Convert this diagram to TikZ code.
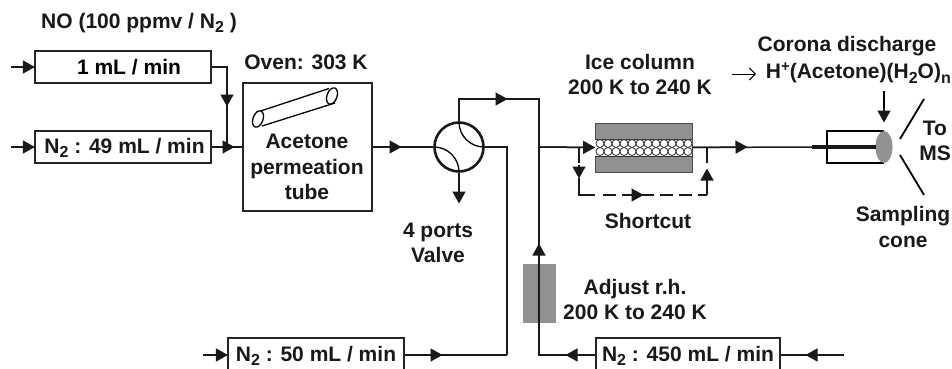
\documentclass[tikz,border=0pt]{standalone}
\usepackage{fontspec}
\setmainfont{Liberation Sans}
\usetikzlibrary{arrows.meta,calc,shapes.geometric}
\tikzset{
  lbl/.style={font=\fontsize{21}{25.5}\selectfont\bfseries, inner sep=0pt, align=center, text=black!90},
  flowbox/.style={draw=black!85, line width=1.2pt, fill=white, inner sep=0pt, minimum height=32pt, font=\fontsize{21}{25.5}\selectfont\bfseries},
  pipe/.style={line width=1.5pt, draw=black!90},
  tip/.style={pipe, -{Triangle[length=12pt,width=13pt]}},
  dash line/.style={pipe, dash pattern=on 13pt off 6pt},
  greyfill/.style={fill=black!43, draw=none},
}
\newcommand{\arrowto}[2]{\draw[tip,shorten >=-0.5pt] #1 -- #2;}
\newcommand{\subs}[1]{\raisebox{-4.5pt}{\fontsize{16}{16}\selectfont #1}}
\newcommand{\sups}[1]{\raisebox{7pt}{\fontsize{15}{15}\selectfont #1}}
\begin{document}
\begin{tikzpicture}[x=1pt,y=-1pt]
\useasboundingbox (0,0) rectangle (952,369);
\fill[white] (0,0) rectangle (952,369);
% boxes
\node[flowbox, minimum width=176pt] (mlone) at (123,67) {\hspace*{12pt}1 mL / min};
\node[flowbox, minimum width=176pt] (nfortynine) at (123,147) {};
\node[lbl] (nfortyninetxt) at (124.5,148) {N\subs{2} : 49 mL / min};
\node[draw=black!85, line width=1.5pt, minimum width=129pt, minimum height=128pt, inner sep=0pt] (oven) at (307.5,147) {};
\node[flowbox, minimum width=176pt, minimum height=36pt] (nfifty) at (316,356) {};
\node[flowbox, minimum width=184pt, minimum height=36pt] (nfourfifty) at (688,356) {};
\node[lbl] (nfiftytxt) at (316,356) {N\subs{2} : 50 mL / min};
\node[lbl] (nfourfiftytxt) at (688,356) {N\subs{2} : 450 mL / min};
% coordinates
\coordinate (j1) at (227,147);
\coordinate (j2) at (227,67);
\coordinate (vt) at (459,99);
\coordinate (vr) at (539,99);
\coordinate (cross) at (539,147);
\coordinate (down) at (507,355);
\coordinate (bend) at (539,355);
\coordinate (downt) at (507,147);
% inlets
\coordinate (in1) at (11,67); \coordinate (in2) at (11,147);
\coordinate (in3) at (203,355); \coordinate (in4) at (844,355);
\arrowto{(in1)}{(mlone.west)}
\arrowto{(in2)}{(nfortynine.west)}
\arrowto{(in3)}{(nfifty.west |- in3)}
\draw[pipe] (mlone.east) -- (j2) -- (j1);
\arrowto{(j2)}{(227,106)}
\draw[pipe] (nfortynine.east) -- (oven.west);
\arrowto{(nfortynine.east)}{(234,147)}
% tube in oven
\draw[line width=1.3pt] (256,112.5) -- (329,88.5);
\draw[line width=1.3pt] (262,126) -- (335,103);
\draw[line width=1.3pt,fill=white] (258,119) ellipse[x radius=5, y radius=8.5,rotate=-20];
\draw[line width=1.3pt] (332,96) ellipse[x radius=5, y radius=8.5,rotate=-20];
\node[lbl] (ovenlbl) at (306,62) {Oven: 303 K};
\node[lbl] (acetone) at (307,167) {Acetone\\permeation\\tube};
% valve
\node[circle, draw=black!90, line width=2.6pt, minimum size=49pt, inner sep=0pt] (valve) at (459,147) {};
\draw[pipe] (oven.east) -- (valve.west);
\arrowto{(oven.east)}{(401,147)}
\draw[line width=1.3pt] (459,122) arc[start angle=180,end angle=90,radius=25];
\draw[line width=1.3pt] (434,147) arc[start angle=270,end angle=360,radius=25];
\draw[pipe] (valve.north) -- (vt) -- (vr) -- (bend);
\arrowto{(vt)}{(507,99)}
\arrowto{(valve.south)}{(459,203)}
\draw[pipe] (valve.east) -- (downt) -- (down);
\draw[pipe] (nfifty.east |- down) -- (down);
\arrowto{(nfifty.east |- down)}{(442,355)}
\node[lbl] (fourports) at (438,243) {4 ports\\Valve};
% rh trap
\node[greyfill, minimum width=33pt, minimum height=59pt, inner sep=0pt] (trap) at (539.5,293.5) {};
\draw[pipe] (nfourfifty.west |- bend) -- (bend) -- (539,250);
\arrowto{(539,250)}{(539,244)}
\draw[pipe] (539,250) -- (cross);
\arrowto{(nfourfifty.west |- bend)}{(566,355)}
\draw[pipe] (in4) -- (nfourfifty.east |- in4);
\arrowto{(in4)}{(806,355)}
\node[lbl] (adjust) at (635,299.5) {Adjust r.h.\\200 K to 240 K};
% ice column
\node[fill=black!43, draw=black!70, line width=0.8pt, minimum width=97pt, minimum height=49pt, inner sep=0pt] (ice) at (643.5,147.5) {};
\fill[white] (595,139) rectangle (692,156);
\draw[line width=1pt,black!80] (595,139) -- (692,139) (595,156) -- (692,156);
\foreach \cx in {0,...,11}{
  \draw[black!75,line width=0.9pt,fill=white] ({600+8*\cx},143.5) circle[radius=4];
  \draw[black!75,line width=0.9pt,fill=white] ({600+8*\cx},151.5) circle[radius=4];
}
\draw[pipe] (cross) -- (ice.west);
\arrowto{(cross)}{(ice.west)}
\draw[pipe] (ice.east) -- (812,147);
\arrowto{(ice.east)}{(747,147)}
\coordinate (sa) at (579,147); \coordinate (sb) at (579,195);
\coordinate (sc) at (707,195); \coordinate (sd) at (707,147);
\draw[pipe] (sa) -- (579,163);
\draw[pipe] (579,178) -- (sb) -- (595,195);
\arrowto{(579,165)}{(579,178)}
\draw[dash line] (603,195) -- (sc);
\arrowto{(630,195)}{(643,195)}
\draw[pipe] (sc) -- (707,182);
\arrowto{(707,182)}{(707,169)}
\draw[pipe] (707,163) -- (sd);
\node[lbl] (shortcut) at (648,221) {Shortcut};
\node[lbl] (icelbl) at (640,74.5) {Ice column\\200 K to 240 K};
% source
\draw[line width=1.4pt] (884,131) -- (827,131) -- (827,163) -- (884,163);
\node[ellipse, fill=black!43, minimum width=17pt, minimum height=32pt, inner sep=0pt] (tipel) at (884,147) {};
\draw[line width=3.5pt, black!90] (812,147) -- (876,147);
\draw[line width=1.4pt] (884,91) -- (884,110);
\arrowto{(884,108)}{(884,122)}
\draw[line width=1.8pt] (900,139) -- (924,99);
\draw[line width=1.8pt] (900,155) -- (924,195);
\node[lbl] (corona) at (847,46) {Corona discharge};
\node[lbl, anchor=east] (ion) at (951,73) {H\sups{+}(Acetone)(H\subs{2}O)\subs{n}};
\draw[line width=0.9pt,-{Straight Barb[length=6pt,width=12pt]}] (732,74) -- (756,74);
\node[lbl] (toms) at (935,141) {To\\MS};
\node[lbl] (cone) at (903,227) {Sampling\\cone};
\node[lbl, anchor=west] (no) at (41,23) {NO (100 ppmv / N\subs{2} )};
\end{tikzpicture}
\end{document}
